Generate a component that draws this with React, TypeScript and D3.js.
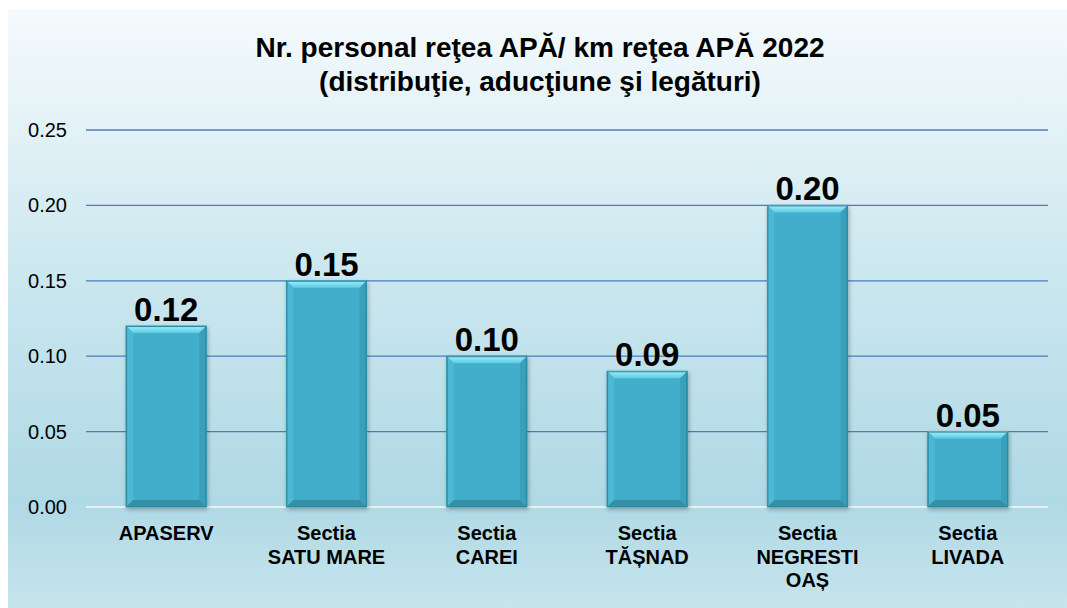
import React, { useEffect, useRef } from 'react';
import * as d3 from 'd3';

const categories = [
  ['APASERV'],
  ['Sectia', 'SATU MARE'],
  ['Sectia', 'CAREI'],
  ['Sectia', 'TĂȘNAD'],
  ['Sectia', 'NEGRESTI', 'OAȘ'],
  ['Sectia', 'LIVADA'],
];
const values = [0.12, 0.15, 0.1, 0.09, 0.2, 0.05];
const yTicks = [0, 0.05, 0.1, 0.15, 0.2, 0.25];
const titleLines = ['Nr. personal reţea APĂ/ km reţea APĂ 2022', '(distribuţie, aducţiune şi legături)'];

const W = 1067;
const H = 608;

const App: React.FC = () => {
  const svgRef = useRef<SVGSVGElement>(null);

  useEffect(() => {
    if (!svgRef.current) return;
    const svg = d3.select(svgRef.current);
    svg.selectAll('*').remove();

    const font = '"Liberation Sans", Arial, sans-serif';
    const plot = { left: 86, right: 1048, top: 130, bottom: 507 };

    const defs = svg.append('defs');
    const bg = defs.append('linearGradient').attr('id', 'bg').attr('x1', 0).attr('y1', 0).attr('x2', 0).attr('y2', 1);
    bg.append('stop').attr('offset', '0%').attr('stop-color', '#f5fafc');
    bg.append('stop').attr('offset', '45%').attr('stop-color', '#cbe7ef');
    bg.append('stop').attr('offset', '82%').attr('stop-color', '#afd9e5');
    bg.append('stop').attr('offset', '100%').attr('stop-color', '#c6e4ec');

    const topBevel = defs.append('linearGradient').attr('id', 'topBevel').attr('x1', 0).attr('y1', 0).attr('x2', 0).attr('y2', 1);
    topBevel.append('stop').attr('offset', '0%').attr('stop-color', '#a2eef9');
    topBevel.append('stop').attr('offset', '100%').attr('stop-color', '#5ccbe3');

    const shadow = defs.append('filter').attr('id', 'shadow').attr('x', '-20%').attr('y', '-20%').attr('width', '140%').attr('height', '140%');
    shadow.append('feDropShadow').attr('dx', 1).attr('dy', 2).attr('stdDeviation', 2).attr('flood-color', '#000').attr('flood-opacity', 0.3);

    svg.append('rect').attr('x', 8).attr('y', 9).attr('width', W - 8).attr('height', H - 9).attr('fill', 'url(#bg)');

    const x = d3.scaleBand<number>()
      .domain(values.map((_, i) => i))
      .range([plot.left, plot.right])
      .paddingInner(0.5)
      .paddingOuter(0.25);

    const y = d3.scaleLinear().domain([0, 0.25]).range([plot.bottom, plot.top]);

    // gridlines
    svg.append('g')
      .selectAll('line')
      .data(yTicks)
      .join('line')
      .attr('x1', plot.left)
      .attr('x2', plot.right)
      .attr('y1', d => y(d))
      .attr('y2', d => y(d))
      .attr('stroke', d => (d === 0 ? '#e4f2f6' : '#4a7ebb'))
      .attr('stroke-width', d => (d === 0 ? 2 : 1.3));

    // tick labels
    svg.append('g')
      .selectAll('text')
      .data(yTicks)
      .join('text')
      .attr('x', 67)
      .attr('y', d => y(d))
      .attr('dy', '0.35em')
      .attr('text-anchor', 'end')
      .style('font-family', font)
      .style('font-size', '20px')
      .style('fill', '#000')
      .text(d => d3.format('.2f')(d));

    // bars
    const bw = x.bandwidth();
    const bev = 7;
    const bars = svg.append('g').selectAll('g').data(values).join('g');

    bars.append('rect')
      .attr('x', (_, i) => x(i)!)
      .attr('y', d => y(d))
      .attr('width', bw)
      .attr('height', d => plot.bottom - y(d))
      .attr('fill', '#43aecb')
      .attr('stroke', '#2f8fa9')
      .attr('stroke-width', 1)
      .attr('filter', 'url(#shadow)');

    bars.append('path')
      .attr('d', (d, i) => {
        const x0 = x(i)!, y0 = y(d);
        return `M${x0},${y0}L${x0 + bw},${y0}L${x0 + bw - bev},${y0 + bev}L${x0 + bev},${y0 + bev}Z`;
      })
      .attr('fill', 'url(#topBevel)');

    bars.append('path')
      .attr('d', (d, i) => {
        const x0 = x(i)!, y0 = y(d);
        return `M${x0},${y0}L${x0 + bev},${y0 + bev}L${x0 + bev},${plot.bottom - bev}L${x0},${plot.bottom}Z`;
      })
      .attr('fill', '#4cb8d3');

    bars.append('path')
      .attr('d', (d, i) => {
        const x0 = x(i)!, y0 = y(d);
        return `M${x0 + bw},${y0}L${x0 + bw - bev},${y0 + bev}L${x0 + bw - bev},${plot.bottom - bev}L${x0 + bw},${plot.bottom}Z`;
      })
      .attr('fill', '#3a9fbb');

    bars.append('path')
      .attr('d', (_, i) => {
        const x0 = x(i)!;
        return `M${x0},${plot.bottom}L${x0 + bev},${plot.bottom - bev}L${x0 + bw - bev},${plot.bottom - bev}L${x0 + bw},${plot.bottom}Z`;
      })
      .attr('fill', '#358fa8');

    bars.append('rect')
      .attr('x', (_, i) => x(i)! + 0.5)
      .attr('y', d => y(d) + 0.5)
      .attr('width', bw - 1)
      .attr('height', d => plot.bottom - y(d) - 1)
      .attr('fill', 'none')
      .attr('stroke', '#2a88a2')
      .attr('stroke-width', 1);

    // value labels
    svg.append('g')
      .selectAll('text')
      .data(values)
      .join('text')
      .attr('x', (_, i) => x(i)! + bw / 2)
      .attr('y', d => y(d) - 5)
      .attr('text-anchor', 'middle')
      .style('font-family', font)
      .style('font-size', '33px')
      .style('font-weight', 'bold')
      .style('fill', '#000')
      .text(d => d3.format('.2f')(d));

    // category labels
    const cat = svg.append('g')
      .selectAll('text')
      .data(categories)
      .join('text')
      .attr('x', (_, i) => x(i)! + bw / 2)
      .attr('y', 540)
      .attr('text-anchor', 'middle')
      .style('font-family', font)
      .style('font-size', '20px')
      .style('font-weight', 'bold')
      .style('fill', '#000');
    cat.selectAll('tspan')
      .data((d, i) => d.map(t => ({ t, i })))
      .join('tspan')
      .attr('x', d => x(d.i)! + bw / 2)
      .attr('dy', (_, j) => (j === 0 ? 0 : 23.5))
      .text(d => d.t);

    // title
    svg.append('text')
      .attr('x', 540)
      .attr('y', 57)
      .attr('text-anchor', 'middle')
      .style('font-family', font)
      .style('font-size', '28px')
      .style('font-weight', 'bold')
      .style('fill', '#000')
      .selectAll('tspan')
      .data(titleLines)
      .join('tspan')
      .attr('x', 540)
      .attr('dy', (_, j) => (j === 0 ? 0 : 34))
      .text(d => d);
  }, []);

  return (
    <svg
      ref={svgRef}
      width={W}
      height={H}
      style={{ position: 'absolute', left: 0, top: 0, display: 'block' }}
    />
  );
};

export default App;
